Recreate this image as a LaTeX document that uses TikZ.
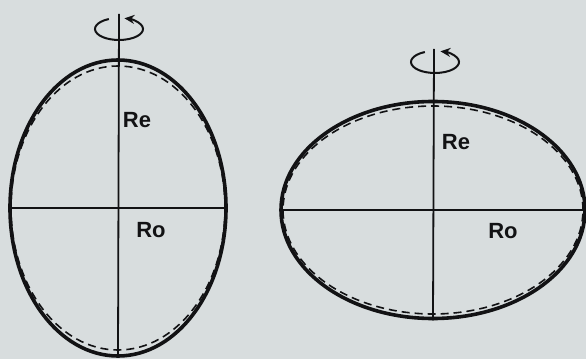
\documentclass[tikz,border=0pt]{standalone}
\usepackage{fontspec}
\setmainfont{Liberation Sans}
\usetikzlibrary{shapes.geometric,arrows.meta,calc}
\definecolor{paper}{RGB}{216,221,222}
\definecolor{ink}{RGB}{18,18,20}
\tikzset{
  outline/.style={ellipse, draw=ink, line width=3.6pt, inner sep=0pt},
  dashline/.style={ellipse, draw=ink, line width=1.6pt, dash pattern=on 8pt off 5pt, inner sep=0pt},
  axisline/.style={draw=ink, line width=1.8pt},
  spin/.style={draw=ink, line width=2pt, -{Stealth[length=10pt,width=9pt]}},
  lbl/.style={font=\fontsize{22}{25}\selectfont\bfseries, text=ink, inner sep=0pt}
}
\begin{document}
\begin{tikzpicture}[x=1pt,y=1pt]
\fill[paper] (0,0) rectangle (586,359);
\useasboundingbox (0,0) rectangle (586,359);
% left (prolate)
\node[dashline, minimum width=214pt, minimum height=284pt] (LD) at (118,151) {};
\node[outline, minimum width=216pt, minimum height=296pt] (L) at (118,151) {};
\coordinate (Ltop) at (119,345);
\coordinate (Lspin) at (119,330);
\draw[axisline] (L.south) -- (Ltop);
\draw[axisline] (L.west) -- (L.east);
\draw[spin] ($(Lspin)+(115:24pt and 11pt)$) arc[start angle=115, end angle=437, x radius=24pt, y radius=11pt];
\node[lbl] (Lre) at (137,239) {Re};
\node[lbl] (Lro) at (151,129) {Ro};
% right (oblate)
\node[dashline, minimum width=300pt, minimum height=208pt] (RD) at (433,149) {};
\node[outline, minimum width=304pt, minimum height=217pt] (R) at (433,149) {};
\coordinate (Rtop) at (434,310);
\coordinate (Rspin) at (435,297);
\draw[axisline] (R.south) -- (Rtop);
\draw[axisline] (R.west) -- (R.east);
\draw[spin] ($(Rspin)+(115:24pt and 11pt)$) arc[start angle=115, end angle=437, x radius=24pt, y radius=11pt];
\node[lbl] (Rre) at (456,217) {Re};
\node[lbl] (Rro) at (503,128) {Ro};
\end{tikzpicture}
\end{document}
